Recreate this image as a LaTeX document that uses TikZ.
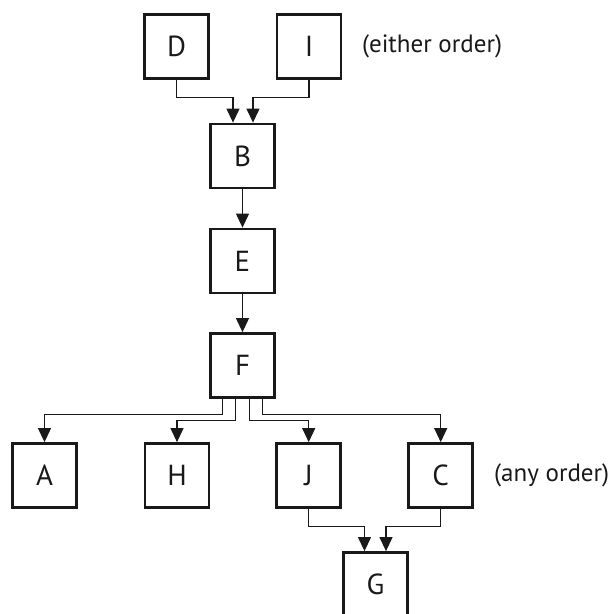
\documentclass[tikz,border=0pt]{standalone}
\usepackage{fontspec}
\setmainfont{PT Sans}
\usetikzlibrary{arrows.meta,calc}
\begin{document}
\begin{tikzpicture}[x=1pt,y=-1pt,
  box/.style={draw=black!90, line width=2.8pt, minimum size=64pt, inner sep=0pt, font=\fontsize{29}{32}\selectfont, text=black!90},
  note/.style={anchor=west, inner sep=0pt, font=\fontsize{25}{30}\selectfont, text=black!90},
  arr/.style={draw=black!90, line width=1.1pt, -{Triangle[width=13pt,length=14pt]}}]
\useasboundingbox (0,0) rectangle (612,614);
\node[box] (D) at (176.5,46.5) {D};
\node[box] (I) at (309,46.5) {I};
\node[box] (B) at (242.5,156) {B};
\node[box] (E) at (242.5,261) {E};
\node[box] (F) at (242.5,365.5) {F};
\node[box] (A) at (44.5,475.5) {A};
\node[box] (H) at (177,475.5) {H};
\node[box] (J) at (308.7,475.5) {J};
\node[box] (C) at (440.7,475.5) {C};
\node[box] (G) at (375.5,584.5) {G};
\node[note] (n1) at (362,46.5) {(either order)};
\node[note] (n2) at (494,475.5) {(any order)};
\draw[arr] (D.south) -- ++(0,17.5) -| ([xshift=-9.5pt]B.north);
\draw[arr] (I.south) -- ++(0,17.5) -| ([xshift=10.5pt]B.north);
\draw[arr] (B) -- (E);
\draw[arr] (E) -- (F);
\draw[arr] ([xshift=-20pt]F.south) -- ++(0,16) -| (A.north);
\draw[arr] ([xshift=-6.6pt]F.south) -- ++(0,22) -| (H.north);
\draw[arr] ([xshift=6.8pt]F.south) -- ++(0,22) -| (J.north);
\draw[arr] ([xshift=20.2pt]F.south) -- ++(0,16) -| (C.north);
\draw[arr] (J.south) -- ++(0,18) -| ([xshift=-11pt]G.north);
\draw[arr] (C.south) -- ++(0,18) -| ([xshift=10.5pt]G.north);
\end{tikzpicture}
\end{document}
